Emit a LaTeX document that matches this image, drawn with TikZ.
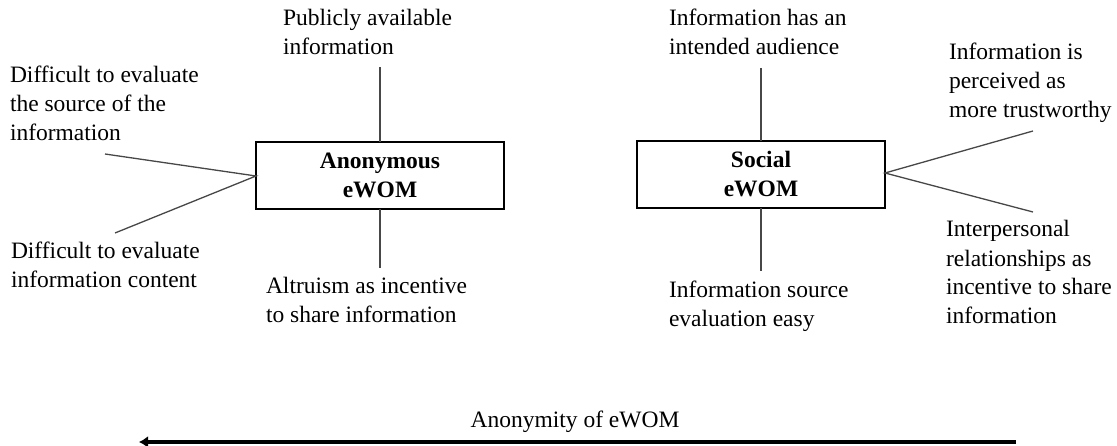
\documentclass[tikz,border=0pt]{standalone}
\usepackage{fontspec}
\setmainfont{Liberation Serif}
\usetikzlibrary{arrows.meta}
\begin{document}
\begin{tikzpicture}[x=1pt,y=-1pt,
  every node/.style={inner sep=0pt, outer sep=0pt, font=\fontsize{23.5}{29}\selectfont},
  label/.style={anchor=base west, align=left},
  ewombox/.style={draw, line width=2pt, minimum width=248pt, minimum height=67pt,
    align=center, font=\fontsize{23.5}{29}\selectfont\bfseries},
  spoke/.style={draw=black!72, line width=1.3pt},
  scale arrow/.style={line width=3.5pt, -{Latex[length=9pt,width=12pt]}}]
\useasboundingbox (0,0) rectangle (1117,446);

% central boxes
\node[ewombox] (anon) at (380,175.5) {Anonymous\\eWOM};
\node[ewombox] (social) at (761,174.5) {Social\\eWOM};

% characteristics of anonymous eWOM (positioned by the baseline of the last line)
\node[label] (pub) at (283,55) {Publicly available\\information};
\node[label] (srcdiff) at (10,141) {Difficult to evaluate\\the source of the\\information};
\node[label] (contdiff) at (11,288) {Difficult to evaluate\\information content};
\node[label] (altru) at (266,323) {Altruism as incentive\\to share information};

% characteristics of social eWOM
\node[label] (aud) at (669,55) {Information has an\\intended audience};
\node[label] (trust) at (949,118) {Information is\\perceived as\\more trustworthy};
\node[label] (srceasy) at (669,327) {Information source\\evaluation easy};
\node[label] (rel) at (946,324) {Interpersonal\\relationships as\\incentive to share\\information};

% free ends of the spokes
\coordinate (a-top) at (380,67);
\coordinate (a-bot) at (380,268);
\coordinate (a-ul) at (105,154);
\coordinate (a-ll) at (115,233);
\coordinate (a-hub) at (256,176);
\coordinate (s-top) at (761,68);
\coordinate (s-bot) at (761,271);
\coordinate (s-hub) at (885,173);
\coordinate (s-ur) at (1033,131);
\coordinate (s-lr) at (1033,212);

\draw[spoke] (a-top) -- (anon.north);
\draw[spoke] (anon.south) -- (a-bot);
\draw[spoke] (a-ul) -- (a-hub) -- (a-ll);
\draw[spoke] (s-top) -- (social.north);
\draw[spoke] (social.south) -- (s-bot);
\draw[spoke] (s-ur) -- (s-hub) -- (s-lr);

% anonymity scale
\coordinate (scale-start) at (1016,442);
\coordinate (scale-end) at (139,442);
\draw[scale arrow] (scale-start) -- (scale-end);
\node[anchor=base] (scalelabel) at (575,428) {Anonymity of eWOM};
\end{tikzpicture}
\end{document}
